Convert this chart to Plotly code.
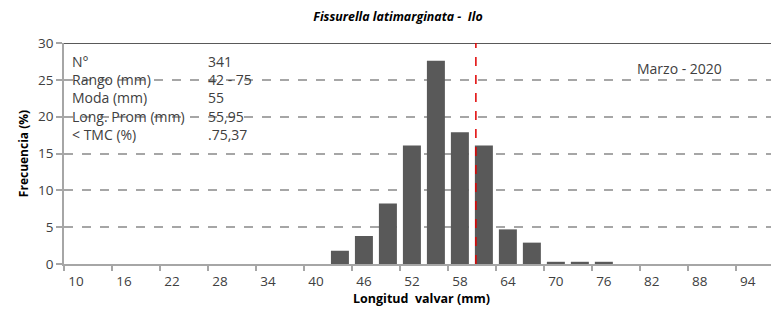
import plotly.graph_objects as go

# Data
lengths = [43, 46, 49, 52, 55, 58, 61, 64, 67, 70, 73, 76]
freq = [1.8, 3.8, 8.2, 16.1, 27.6, 17.9, 16.1, 4.7, 2.9, 0.3, 0.3, 0.3]
tick_labels = [10, 16, 22, 28, 34, 40, 46, 52, 58, 64, 70, 76, 82, 88, 94]
tmc = 60
stat_names = ["N°", "Rango (mm)", "Moda (mm)", "Long. Prom (mm)", "< TMC (%)"]
stat_values = ["341", "42 - 75", "55", "55,95", ".75,37"]
title = "Fissurella latimarginata -  Ilo"
period = "Marzo - 2020"

FONT = "'Open Sans', 'Noto Sans', sans-serif"
TXT = "#404040"

fig = go.Figure()
fig.add_trace(go.Bar(x=lengths, y=freq, width=2.25,
                     marker=dict(color="#595959", line=dict(width=0))))

# page body has an 8px margin: figure is shifted by 8px right/down
fig.update_layout(
    width=771, height=301,
    margin=dict(l=56, r=0, t=35, b=45),
    paper_bgcolor="white", plot_bgcolor="white",
    showlegend=False,
    font=dict(family=FONT, size=13, color=TXT),
    title=dict(text="<b><i>" + title + "</i></b>", x=(398 - 8) / 771, xanchor="center",
               y=1 - (17 - 8) / 301, yanchor="middle", font=dict(size=12.4, color="#000000")),
)
fig.update_xaxes(
    range=[8.5, 97.9], tickmode="array", tickvals=tick_labels,
    ticktext=[str(t) for t in tick_labels],
    ticks="outside", ticklen=4, tickcolor="rgba(0,0,0,0)",
    showgrid=False, zeroline=False,
    showline=True, linecolor="#A6A6A6", linewidth=1.5,
    tickfont=dict(size=13.5, color=TXT),
    minor=dict(tick0=8.5, dtick=6, ticks="outside", ticklen=5,
               tickcolor="#A6A6A6", tickwidth=1.5, showgrid=False),
    title=dict(text="<b>Longitud  valvar (mm)</b>", font=dict(size=12.5, color="#000000"),
               standoff=5),
)
fig.update_yaxes(
    range=[0, 30], tickmode="array", tickvals=[0, 5, 10, 15, 20, 25, 30],
    ticks="outside", ticklen=6, tickcolor="#A6A6A6", tickwidth=1.5,
    showgrid=True, gridcolor="#A6A6A6", gridwidth=1.5, griddash="dash",
    zeroline=False, showline=True, linecolor="#A6A6A6", linewidth=1.5,
    tickfont=dict(size=13.5, color=TXT),
    title=dict(text="<b>Frecuencia (%)</b>", font=dict(size=12, color="#000000"),
               standoff=7),
)

# top border line at 30
fig.add_shape(type="line", xref="paper", yref="y", x0=0, x1=1, y0=30, y1=30,
              line=dict(color="#595959", width=2))
# TMC line
fig.add_shape(type="line", xref="x", yref="y", x0=tmc, x1=tmc, y0=0, y1=30,
              line=dict(color="#E00000", width=1.5, dash="dash"))

# statistics block: two multi-line columns
fig.add_annotation(x=9.25, y=22.6, xref="x", yref="y", text="<br>".join(stat_names),
                   showarrow=False, xanchor="left", yanchor="middle", align="left",
                   font=dict(size=14, color=TXT))
fig.add_annotation(x=26.25, y=22.6, xref="x", yref="y", text="<br>".join(stat_values),
                   showarrow=False, xanchor="left", yanchor="middle", align="left",
                   font=dict(size=14, color=TXT))

fig.add_annotation(x=85.4, y=26.5, xref="x", yref="y", text=period, showarrow=False,
                   xanchor="center", yanchor="middle", font=dict(size=14, color=TXT))

fig.write_html("out.html")
